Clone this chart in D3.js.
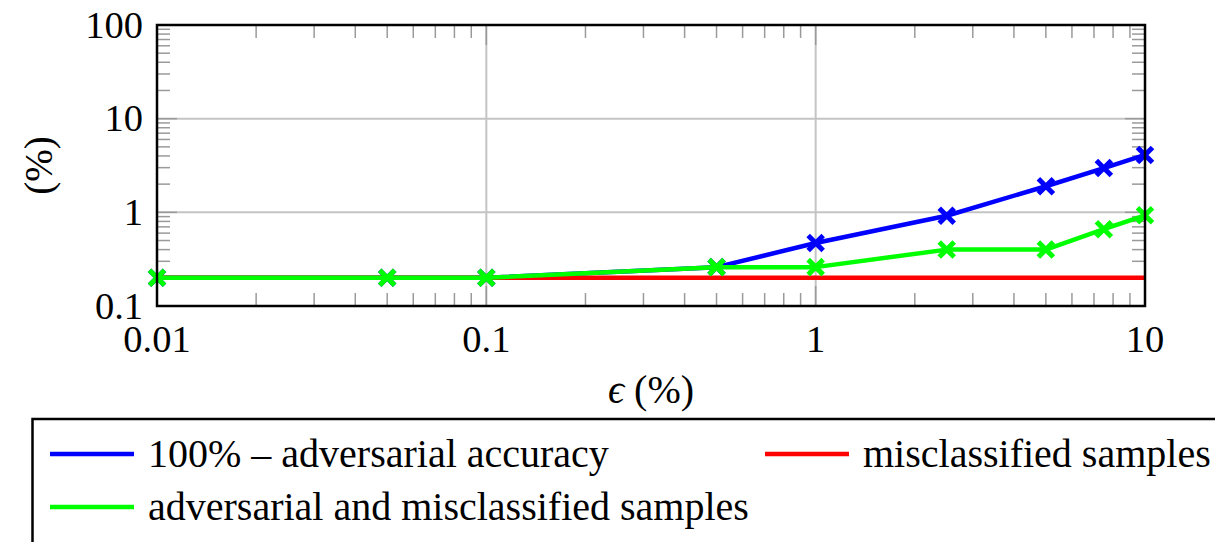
<!DOCTYPE html>
<html>
<head>
<meta charset="utf-8">
<script src="https://cdn.jsdelivr.net/npm/d3@7"></script>
<style>
  body { margin: 0; background: #fff; }
</style>
</head>
<body>
<div id="chart-area"></div>
<script>
// Data (epsilon in %, values in %)
var epsValues   = [0.01, 0.05, 0.1, 0.5, 1, 2.5, 5, 7.5, 10];
var advAccuracy = [0.2, 0.2, 0.2, 0.26, 0.47, 0.92, 1.9, 2.97, 4.1];
var misclass    = [0.2, 0.2, 0.2, 0.2, 0.2, 0.2, 0.2, 0.2, 0.2];
var advAndMis   = [0.2, 0.2, 0.2, 0.26, 0.26, 0.4, 0.4, 0.66, 0.93];
var xTicks      = [0.01, 0.1, 1, 10];
var yTicks      = [0.1, 1, 10, 100];
var legendNames = ["100% \u2013 adversarial accuracy", "misclassified samples", "adversarial and misclassified samples"];

var FONT = "'Times New Roman', Times, 'Liberation Serif', 'DejaVu Serif', serif";

// Canvas
var W = 1215, H = 542;
var margin = { top: 25, left: 157, right: 70, bottom: 236 };
var width  = W - margin.left - margin.right;
var height = H - margin.top - margin.bottom;

var svg = d3.select("#chart-area")
	.append("svg")
		.attr("width", W)
		.attr("height", H)
		.style("font-family", FONT);

var g = svg.append("g")
	.attr("transform", "translate(" + margin.left + "," + margin.top + ")");

// Log scales
var x = d3.scaleLog().domain([0.01, 10]).range([0, width]);
var y = d3.scaleLog().domain([0.1, 100]).range([height, 0]);

// Minor tick values (2..9 of each decade)
var xMinor = [], yMinor = [];
[0.01, 0.1, 1].forEach(function(d) {
	for (var k = 2; k <= 9; k++) xMinor.push(d * k);
});
[0.1, 1, 10].forEach(function(d) {
	for (var k = 2; k <= 9; k++) yMinor.push(d * k);
});

// Grid lines at inner major ticks
g.selectAll(".xgrid").data(xTicks.slice(1, -1)).enter().append("line")
	.attr("x1", function(d) { return x(d); }).attr("x2", function(d) { return x(d); })
	.attr("y1", 0).attr("y2", height)
	.attr("stroke", "#c4c4c4").attr("stroke-width", 2);
g.selectAll(".ygrid").data(yTicks.slice(1, -1)).enter().append("line")
	.attr("y1", function(d) { return y(d); }).attr("y2", function(d) { return y(d); })
	.attr("x1", 0).attr("x2", width)
	.attr("stroke", "#c4c4c4").attr("stroke-width", 2);

// Ticks inside on all four sides
var minorLen = 13, majorLen = 20;
function xTickLines(vals, len, col) {
	g.append("g").selectAll("line").data(vals).enter().append("line")
		.attr("x1", function(d) { return x(d); }).attr("x2", function(d) { return x(d); })
		.attr("y1", height).attr("y2", height - len)
		.attr("stroke", col).attr("stroke-width", 1.5);
	g.append("g").selectAll("line").data(vals).enter().append("line")
		.attr("x1", function(d) { return x(d); }).attr("x2", function(d) { return x(d); })
		.attr("y1", 0).attr("y2", len)
		.attr("stroke", col).attr("stroke-width", 1.5);
}
function yTickLines(vals, len, col) {
	g.append("g").selectAll("line").data(vals).enter().append("line")
		.attr("y1", function(d) { return y(d); }).attr("y2", function(d) { return y(d); })
		.attr("x1", 0).attr("x2", len)
		.attr("stroke", col).attr("stroke-width", 1.5);
	g.append("g").selectAll("line").data(vals).enter().append("line")
		.attr("y1", function(d) { return y(d); }).attr("y2", function(d) { return y(d); })
		.attr("x1", width).attr("x2", width - len)
		.attr("stroke", col).attr("stroke-width", 1.5);
}
xTickLines(xMinor, minorLen, "#9a9a9a");
yTickLines(yMinor, minorLen, "#9a9a9a");
xTickLines(xTicks.slice(1, -1), majorLen, "#9a9a9a");
yTickLines(yTicks.slice(1, -1), majorLen, "#9a9a9a");

// Series lines
var line = d3.line()
	.x(function(d) { return x(d[0]); })
	.y(function(d) { return y(d[1]); });

var series = [
	{ name: legendNames[0], vals: advAccuracy, color: "#0000ff", marks: true },
	{ name: legendNames[1], vals: misclass,    color: "#ff0000", marks: false },
	{ name: legendNames[2], vals: advAndMis,   color: "#00ff00", marks: true }
];

series.forEach(function(s) {
	var pts = epsValues.map(function(e, i) { return [e, s.vals[i]]; });
	g.append("path")
		.datum(pts)
		.attr("d", line)
		.attr("fill", "none")
		.attr("stroke", s.color)
		.attr("stroke-width", 4.5)
		.attr("stroke-linejoin", "round");
	if (s.marks) {
		var m = 7.5;
		g.append("g").selectAll("path").data(pts).enter().append("path")
			.attr("d", function(d) {
				var cx = x(d[0]), cy = y(d[1]);
				return "M" + (cx - m) + "," + (cy - m) + "L" + (cx + m) + "," + (cy + m) +
					"M" + (cx - m) + "," + (cy + m) + "L" + (cx + m) + "," + (cy - m);
			})
			.attr("stroke", s.color)
			.attr("stroke-width", 5)
			.attr("fill", "none");
	}
});

// Frame
g.append("rect")
	.attr("x", 0).attr("y", 0)
	.attr("width", width).attr("height", height)
	.attr("fill", "none")
	.attr("stroke", "#000")
	.attr("stroke-width", 2.5);

// Tick labels
g.selectAll(".xlab").data(xTicks).enter().append("text")
	.attr("x", function(d) { return x(d); })
	.attr("y", height + 46)
	.attr("text-anchor", "middle")
	.attr("font-family", FONT)
	.attr("font-size", "38.5px")
	.text(function(d) { return d3.format("~g")(d); });

g.selectAll(".ylab").data(yTicks).enter().append("text")
	.attr("x", -14)
	.attr("y", function(d) { return y(d) + 12.5; })
	.attr("text-anchor", "end")
	.attr("font-family", FONT)
	.attr("font-size", "38.5px")
	.text(function(d) { return d3.format("~g")(d); });

// Axis labels
g.append("text")
	.attr("x", width / 2)
	.attr("y", height + 97)
	.attr("text-anchor", "middle")
	.attr("font-family", FONT)
	.attr("font-size", "40px")
	.html("<tspan font-style='italic'>\u03F5</tspan> (%)");

g.append("text")
	.attr("transform", "translate(" + (-105) + "," + (height / 2) + ") rotate(-90)")
	.attr("text-anchor", "middle")
	.attr("font-family", FONT)
	.attr("font-size", "39px")
	.text("(%)");

// Legend box
var lg = svg.append("g");
lg.append("rect")
	.attr("x", 32.5).attr("y", 419)
	.attr("width", 1230).attr("height", 200)
	.attr("fill", "#fff")
	.attr("stroke", "#000")
	.attr("stroke-width", 2.5);

var legendPos = [[50, 454], [765, 454], [50, 507]];
series.forEach(function(s, i) {
	var p = legendPos[i];
	lg.append("line")
		.attr("x1", p[0]).attr("x2", p[0] + 84)
		.attr("y1", p[1]).attr("y2", p[1])
		.attr("stroke", s.color).attr("stroke-width", 4.5);
	lg.append("text")
		.attr("x", p[0] + 98)
		.attr("y", p[1] + 13)
		.attr("font-family", FONT)
		.attr("font-size", "40px")
		.text(s.name);
});
</script>
</body>
</html>
